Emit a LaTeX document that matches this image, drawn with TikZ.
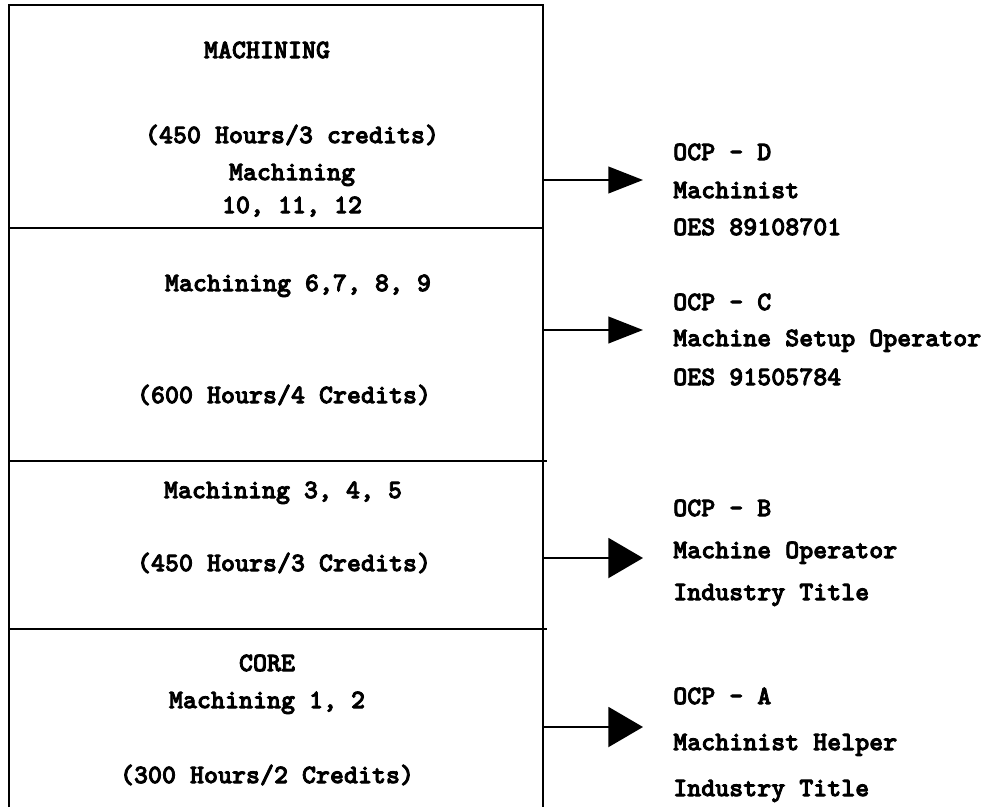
\documentclass[tikz,border=0pt]{standalone}
\usepackage{fontspec}
\newfontfamily\stagefont{lmmonolt10-bold}[Extension=.otf, FakeBold=3]
\usepackage{tikz}
\usetikzlibrary{arrows.meta,positioning}

\begin{document}
\begin{tikzpicture}[
			x=0.75pt, y=-0.75pt,
			every node/.style={inner sep=0pt, text height=12.2pt, text depth=0pt, font=\stagefont\fontsize{20}{24}\selectfont},
			course/.style={anchor=center},
			jobtext/.style={anchor=west},
			frame/.style={draw, black, line width=1.5pt},
			divider/.style={draw, black, line width=1.4pt},
			arrow/.style={draw, black, line width=1.5pt, -{Triangle[length=26pt,width=20pt]}},
			bigarrow/.style={draw, black, line width=1.5pt, -{Triangle[length=26pt,width=30pt]}}
			]
			\useasboundingbox (0,0) rectangle (1006,807);
			
			% 框体
			\coordinate (BL) at (9,807);
			\coordinate (TL) at (9,5);
			\coordinate (TR) at (543,5);
			\coordinate (BR) at (543,807);
			\draw [frame] (BL) -- (TL) -- (TR) -- (BR);
			\draw [divider] (9,228) -- (543,228);
			\draw [divider] (9,461) -- (547,461);
			\draw [divider] (9,629) -- (547,629);
			
			% 课程文字
			\node (mach) [course] at (267,50) {MACHINING};
			\node (hrsD) [course] at (292,135) {(450 Hours/3 credits)};
			\node (crsD) [course] at (292,172) {Machining};
			\node (numD) [course] at (292,205) {10, 11, 12};
			\node (crsC) [course] at (298,283) {Machining 6,7, 8, 9};
			\node (hrsC) [course] at (284,395) {(600 Hours/4 Credits)};
			\node (crsB) [course] at (283,490) {Machining 3, 4, 5};
			\node (hrsB) [course] at (284,563) {(450 Hours/3 Credits)};
			\node (core) [course] at (267,663) {CORE};
			\node (crsA) [course] at (267,700) {Machining 1, 2};
			\node (hrsA) [course] at (267,775) {(300 Hours/2 Credits)};
			
			% 职业文字
			\node (ocpD) [jobtext] at (673,152) {OCP - D};
			\node (jobD) [jobtext] at (673,190) {Machinist};
			\node (oesD) [jobtext] at (673,227) {OES 89108701};
			\node (ocpC) [jobtext] at (673,302) {OCP - C};
			\node (jobC) [jobtext] at (673,338) {Machine Setup Operator};
			\node (oesC) [jobtext] at (673,377) {OES 91505784};
			\node (ocpB) [jobtext] at (673,508) {OCP - B};
			\node (jobB) [jobtext] at (673,550) {Machine Operator};
			\node (indB) [jobtext] at (673,592) {Industry Title};
			\node (ocpA) [jobtext] at (673,696) {OCP - A};
			\node (jobA) [jobtext] at (673,742) {Machinist Helper};
			\node (indA) [jobtext] at (673,788) {Industry Title};
			
			% 箭头
			\coordinate (outD) at (543,180);
			\coordinate (inD) at (643,180);
			\coordinate (outC) at (543,330);
			\coordinate (inC) at (643,330);
			\coordinate (outB) at (543,558);
			\coordinate (inB) at (643,558);
			\coordinate (outA) at (543,727);
			\coordinate (inA) at (643,727);
			\draw [arrow] (outD) -- (inD);
			\draw [arrow] (outC) -- (inC);
			\draw [bigarrow] (outB) -- (inB);
			\draw [bigarrow] (outA) -- (inA);
			
		\end{tikzpicture}
\end{document}
